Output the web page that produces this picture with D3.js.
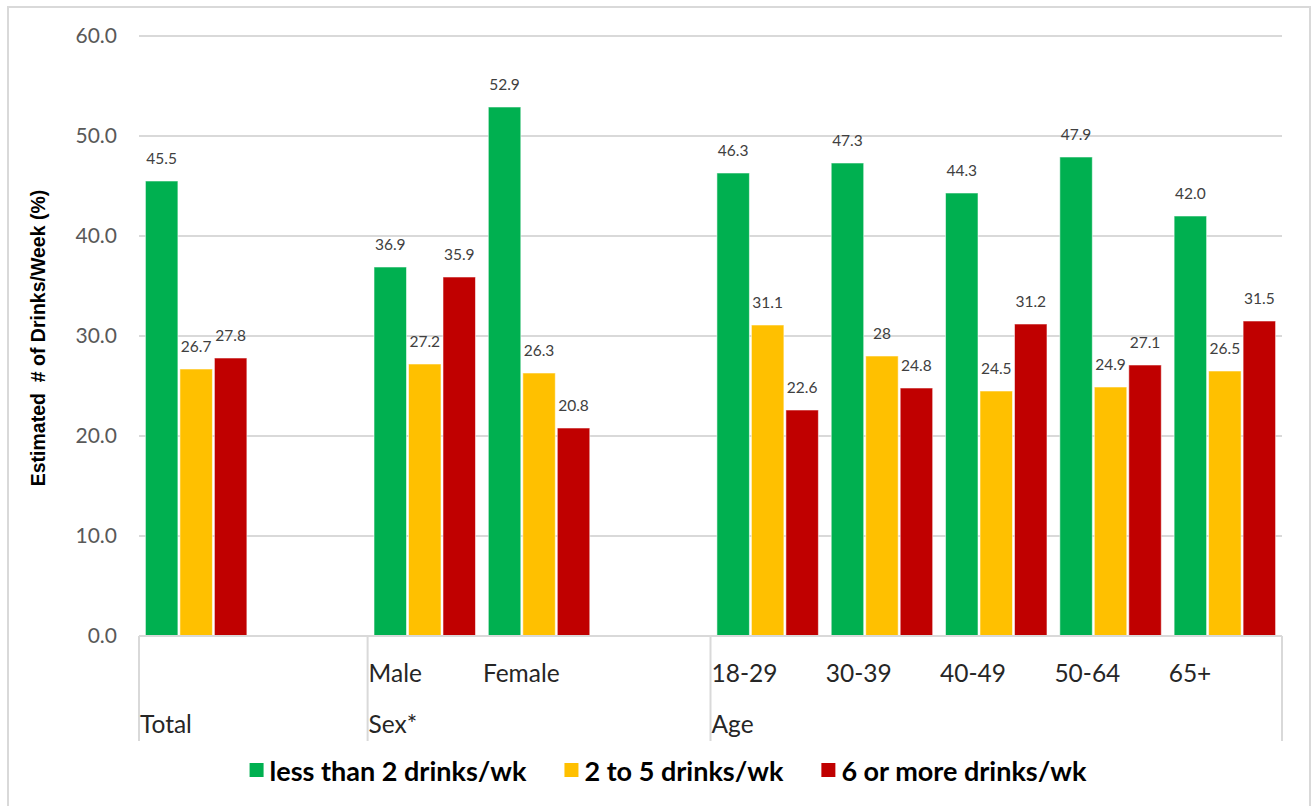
<!DOCTYPE html>
<html>
<head>
<meta charset="utf-8">
<script src="https://cdn.jsdelivr.net/npm/d3@7"></script>
<style>
  html, body { margin: 0; padding: 0; background: #ffffff; }
  svg { display: block; }
</style>
</head>
<body>
<svg id="chart" width="1312" height="806"></svg>
<script>
// Category slots along the x axis (blank slots leave room between groups)
const slotIds    = ["total", "blank1", "male", "female", "blank2", "a18", "a30", "a40", "a50", "a65"];
const slotLabels = ["", "", "Male", "Female", "", "18-29", "30-39", "40-49", "50-64", "65+"];

// Outer grouping of the slots
const groupNames  = ["Total", "Sex*", "Age"];
const groupStarts = [0, 2, 5];
const groupEnds   = [2, 5, 10];

// Slots that carry bars
const barSlots = ["total", "male", "female", "a18", "a30", "a40", "a50", "a65"];

// Series
const seriesNames = ["less than 2 drinks/wk", "2 to 5 drinks/wk", "6 or more drinks/wk"];
const seriesColors = ["#00B050", "#FFC000", "#C00000"];
const lessThan2 = [45.5, 36.9, 52.9, 46.3, 47.3, 44.3, 47.9, 42.0];
const twoToFive = [26.7, 27.2, 26.3, 31.1, 28, 24.5, 24.9, 26.5];
const sixOrMore = [27.8, 35.9, 20.8, 22.6, 24.8, 31.2, 27.1, 31.5];
// Number of decimals shown in each data label
const lessThan2Decimals = [1, 1, 1, 1, 1, 1, 1, 1];
const twoToFiveDecimals = [1, 1, 1, 1, 0, 1, 1, 1];
const sixOrMoreDecimals = [1, 1, 1, 1, 1, 1, 1, 1];

// Y axis
const yTicks = [0, 10, 20, 30, 40, 50, 60];
const yTitle = "Estimated  # of Drinks/Week (%)";

const seriesValues = [lessThan2, twoToFive, sixOrMore];
const seriesDecimals = [lessThan2Decimals, twoToFiveDecimals, sixOrMoreDecimals];

const svg = d3.select("#chart");
const plot = { left: 139, right: 1282, top: 36, bottom: 636 };
const gridColor = "#d9d9d9";

// Chart frame
svg.append("rect")
  .attr("x", 8).attr("y", 7)
  .attr("width", 1302).attr("height", 820)
  .attr("fill", "#ffffff")
  .attr("stroke", gridColor).attr("stroke-width", 2);

const x = d3.scaleBand().domain(slotIds).range([plot.left, plot.right]).padding(0);
const xInner = d3.scaleBand().domain(d3.range(3)).range([0, x.bandwidth()])
  .paddingInner(0.058).paddingOuter(0.186);
const y = d3.scaleLinear().domain([0, 60]).range([plot.bottom, plot.top]);

// Gridlines
svg.append("g").selectAll("line")
  .data(yTicks.filter(t => t > 0))
  .join("line")
  .attr("x1", plot.left).attr("x2", plot.right)
  .attr("y1", d => y(d)).attr("y2", d => y(d))
  .attr("stroke", gridColor).attr("stroke-width", 2);

// Y axis tick labels
const yAxis = d3.axisLeft(y).tickValues(yTicks).tickFormat(d3.format(".1f")).tickSize(0).tickPadding(22);
const yg = svg.append("g").attr("transform", `translate(${plot.left},0)`).call(yAxis);
yg.select(".domain").remove();
yg.selectAll("text")
  .attr("font-family", "Lato, 'Open Sans', sans-serif")
  .attr("font-size", 21)
  .attr("fill", "#595959");

// Y axis title
svg.append("text")
  .attr("transform", `translate(38, ${(plot.top + plot.bottom) / 2 + 2}) rotate(-90)`)
  .attr("text-anchor", "middle")
  .attr("dominant-baseline", "central")
  .attr("font-family", "'Liberation Sans', Arial, sans-serif")
  .attr("font-weight", "bold")
  .attr("font-size", 19.5)
  .attr("fill", "#000000")
  .attr("xml:space", "preserve")
  .style("white-space", "pre")
  .text(yTitle);

// Bars
const barData = [];
barSlots.forEach((slot, i) => {
  seriesValues.forEach((vals, s) => {
    barData.push({ slot, s, value: vals[i], decimals: seriesDecimals[s][i] });
  });
});

svg.append("g").selectAll("rect")
  .data(barData)
  .join("rect")
  .attr("x", d => x(d.slot) + xInner(d.s))
  .attr("width", xInner.bandwidth())
  .attr("y", d => y(d.value))
  .attr("height", d => y(0) - y(d.value))
  .attr("fill", d => seriesColors[d.s])
  .attr("stroke", "#ffffff").attr("stroke-opacity", 0.55).attr("stroke-width", 1);

// Data labels
svg.append("g").selectAll("text")
  .data(barData)
  .join("text")
  .attr("x", d => x(d.slot) + xInner(d.s) + xInner.bandwidth() / 2)
  .attr("y", d => y(d.value) - 17)
  .attr("text-anchor", "middle")
  .attr("font-family", "Lato, 'Open Sans', sans-serif")
  .attr("font-size", 15.5)
  .attr("fill", "#404040")
  .text(d => d.value.toFixed(d.decimals));

// Category axis: baseline, group separators and labels
svg.append("line")
  .attr("x1", plot.left).attr("x2", plot.right)
  .attr("y1", plot.bottom).attr("y2", plot.bottom)
  .attr("stroke", gridColor).attr("stroke-width", 2);

const sepIdx = Array.from(new Set(groupStarts.concat(groupEnds)));
svg.append("g").selectAll("line")
  .data(sepIdx)
  .join("line")
  .attr("x1", d => d < slotIds.length ? x(slotIds[d]) : plot.right)
  .attr("x2", d => d < slotIds.length ? x(slotIds[d]) : plot.right)
  .attr("y1", plot.bottom).attr("y2", 741)
  .attr("stroke", gridColor).attr("stroke-width", 2);

svg.append("g").selectAll("text")
  .data(slotIds.map((id, i) => ({ id, label: slotLabels[i] })).filter(d => d.label))
  .join("text")
  .attr("x", d => x(d.id) + 1)
  .attr("y", 672)
  .attr("dominant-baseline", "central")
  .attr("font-family", "Lato, 'Open Sans', sans-serif")
  .attr("font-size", 24.5)
  .attr("fill", "#262626")
  .text(d => d.label);

svg.append("g").selectAll("text")
  .data(groupNames.map((name, i) => ({ name, start: groupStarts[i] })))
  .join("text")
  .attr("x", d => x(slotIds[d.start]) + 1)
  .attr("y", 723)
  .attr("dominant-baseline", "central")
  .attr("font-family", "Lato, 'Open Sans', sans-serif")
  .attr("font-size", 24.5)
  .attr("fill", "#262626")
  .text(d => d.name);

// Legend
const legend = svg.append("g");
const items = legend.selectAll("g")
  .data(seriesNames.map((name, i) => ({ name, color: seriesColors[i] })))
  .join("g");
items.append("rect")
  .attr("width", 14).attr("height", 14)
  .attr("y", -7)
  .attr("fill", d => d.color);
items.append("text")
  .attr("x", 20)
  .attr("dominant-baseline", "central")
  .attr("font-family", "Lato, 'Open Sans', sans-serif")
  .attr("font-weight", "bold")
  .attr("font-size", 27)
  .attr("fill", "#000000")
  .text(d => d.name);

const itemGap = 38;
let cursor = 0;
const offsets = [];
items.each(function () {
  offsets.push(cursor);
  const w = this.querySelector("text").getComputedTextLength();
  cursor += 20 + w + itemGap;
});
const legendWidth = cursor - itemGap;
const legendLeft = 668 - legendWidth / 2;
items.attr("transform", (d, i) => `translate(${legendLeft + offsets[i]}, 770)`);
</script>
</body>
</html>
